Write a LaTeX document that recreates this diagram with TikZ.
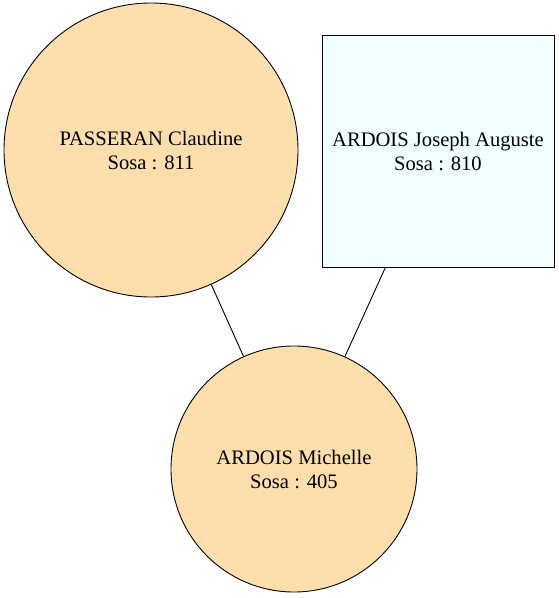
\documentclass[tikz,border=0pt]{standalone}
\usepackage{fontspec}
\setmainfont{Liberation Serif}
\definecolor{femme}{RGB}{254,222,173}
\definecolor{homme}{RGB}{240,255,255}
\tikzset{
  pers/.style={draw,line width=0.9pt,align=center,font=\fontsize{20.6}{24}\selectfont,inner sep=0pt},
  elle/.style={pers,circle,fill=femme},
  lui/.style={pers,rectangle,fill=homme}
}
\begin{document}
\begin{tikzpicture}[x=1pt,y=-1pt]
\useasboundingbox (0,0) rectangle (559,598);
\node[elle,minimum size=294pt](claudine) at (151,150){PASSERAN Claudine\\Sosa : 811};
\node[lui,minimum size=232pt](joseph) at (438,151){ARDOIS Joseph Auguste\\Sosa : 810};
\node[elle,minimum size=246pt](michelle) at (294,469){ARDOIS Michelle\\Sosa : 405};
\draw[line width=0.9pt](claudine)--(michelle);
\draw[line width=0.9pt](joseph)--(michelle);
\end{tikzpicture}
\end{document}
